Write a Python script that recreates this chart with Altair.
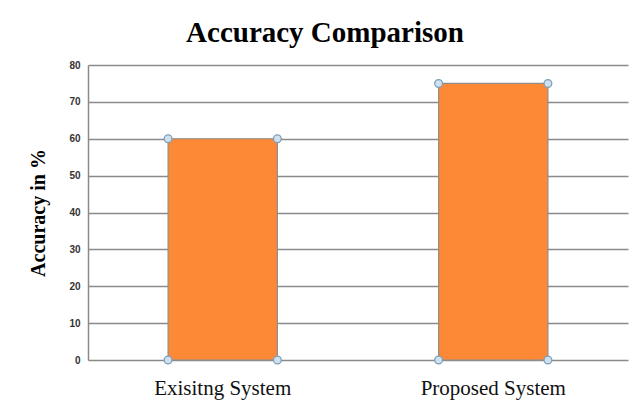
import altair as alt
import pandas as pd

categories = ["Exisitng System", "Proposed System"]
values = [60, 75]
y_ticks = [0, 10, 20, 30, 40, 50, 60, 70, 80]

df = pd.DataFrame({"system": categories, "accuracy": values})

xscale = alt.Scale(domain=categories, paddingInner=0.596, paddingOuter=0.296)
yscale = alt.Scale(domain=[0, 80])

xax = alt.Axis(title=None, labelAngle=0, labelFont="Liberation Serif", labelFontSize=21,
               labelColor="#111", labelPadding=17, ticks=False, domain=False)
yax = alt.Axis(title="Accuracy in %", titleFont="Liberation Serif", titleFontSize=20,
               titleFontWeight="bold", titleColor="#000", titlePadding=20,
               labelFont="Liberation Sans", labelFontSize=10, labelFontWeight="bold",
               labelColor="#333", labelPadding=8, ticks=False, values=y_ticks,
               labelOverlap=False,
               gridColor="#8a8a8a", gridWidth=1.5, domainColor="#8a8a8a", domainWidth=1.5)

bars = alt.Chart(df).mark_bar(color="#FD8936", stroke="#8f8f8f", strokeWidth=1.2).encode(
    x=alt.X("system:N", scale=xscale, axis=xax, sort=categories),
    y=alt.Y("accuracy:Q", scale=yscale, axis=yax),
)

pt_style = dict(shape="circle", filled=True, fill="#cfe0ee", stroke="#7e9fb8", strokeWidth=1.3, size=60, opacity=1)

def corner(band, top):
    field = "accuracy:Q" if top else "zero:Q"
    return alt.Chart(df).transform_calculate(zero="0").mark_point(**pt_style).encode(
        x=alt.X("system:N", scale=xscale, bandPosition=band, sort=categories, axis=xax),
        y=alt.Y(field, scale=yscale, axis=yax),
    )

points = [corner(b, t) for b in (0, 1) for t in (True, False)]

chart = alt.layer(bars, *points).properties(
    width=540, height=295,
    autosize=alt.AutoSizeParams(type="none"),
    padding={"left": 80, "top": 57, "right": 3, "bottom": 46},
    title=alt.TitleParams("Accuracy Comparison", font="Liberation Serif", fontSize=29,
                          fontWeight="bold", color="#000", anchor="middle", dx=-33, offset=12),
).configure_view(stroke=None)

chart.save("out.html", embed_options={"renderer": "svg", "actions": False})
